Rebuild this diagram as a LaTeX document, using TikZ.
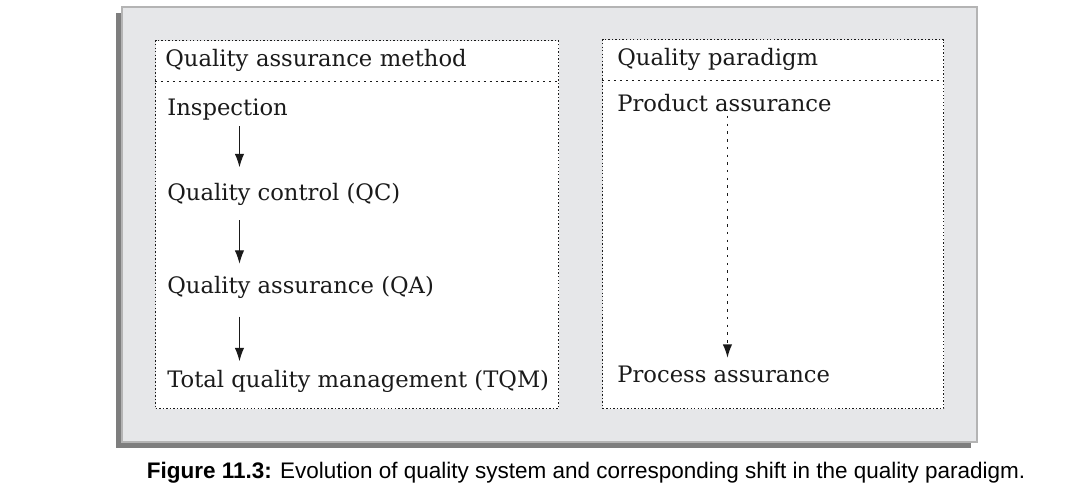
\documentclass[tikz,border=0pt]{standalone}
\usepackage{fontspec}
\setmainfont{DejaVu Serif}
\newfontfamily\capfont{Liberation Sans}
\usepackage{tikz}
\usetikzlibrary{positioning,arrows.meta}

\definecolor{panelgray}{HTML}{E6E7E9}
\definecolor{edgegray}{HTML}{B4B4B4}
\definecolor{shadowgray}{HTML}{7E7E7E}
\definecolor{inkgray}{HTML}{1A1A1A}

\begin{document}
\begin{tikzpicture}[x=0.02cm, y=-0.02cm,
    paneframe/.style={rectangle, draw=inkgray, fill=white, line width=0.75pt,
        dash pattern=on 0.8pt off 1.2pt, inner sep=0pt, anchor=north west},
    headcell/.style={rectangle, anchor=north west, inner xsep=0.2cm, inner ysep=0pt,
        align=left, minimum height=0.82cm, font=\fontsize{12.9}{15}\selectfont, text=inkgray},
    headline/.style={draw=inkgray, line width=0.75pt, dash pattern=on 1.2pt off 2.2pt},
    item/.style={rectangle, inner sep=2pt, font=\fontsize{12.9}{15}\selectfont, text=inkgray},
    flow/.style={-{Latex[length=2.7mm,width=1.9mm]}, draw=inkgray, line width=0.65pt},
    shiftflow/.style={flow, line width=0.85pt, dash pattern=on 1.4pt off 3pt},
    caption/.style={font=\capfont\fontsize{12.8}{15}\selectfont, text=black}]
\useasboundingbox (0,0) rectangle (1069,501);

%% Background panel
\fill[shadowgray] (116,13) rectangle (971,448);
\filldraw[fill=panelgray, draw=edgegray, line width=0.8pt] (122,7) rectangle (977,442);

%% Nodes definition
\node[paneframe, minimum width=8.06cm, minimum height=7.36cm] (methodbox) at (155,40) {};
\node[paneframe, minimum width=6.82cm, minimum height=7.38cm] (paradigmbox) at (602,39) {};

\node[headcell, text width=7.66cm] (methodhead) at (methodbox.north west) {Quality assurance method};
\node[headcell, text width=6.22cm, inner xsep=0.3cm] (paradigmhead) at (paradigmbox.north west) {Quality paradigm};

\node[item, below right=0.68cm and 0.17cm of methodhead.south west, anchor=base west] (insp) {Inspection};
\node[item, below=1.7cm of insp.base west, anchor=base west] (qc) {Quality control (QC)};
\node[item, below=1.86cm of qc.base west, anchor=base west] (qa) {Quality assurance (QA)};
\node[item, below=1.88cm of qa.base west, anchor=base west] (tqm) {Total quality management (TQM)};

\node[item, below right=0.62cm and 0.23cm of paradigmhead.south west, anchor=base west] (product) {Product assurance};
\node[item, below=5.42cm of product.base west, anchor=base west] (process) {Process assurance};

\coordinate[right=1.52cm of insp.base west] (spine);
\coordinate[right=2.28cm of product.base west] (shiftline);

\node[caption] (caption) at (586,473) {\textbf{Figure 11.3:} Evolution of quality system and corresponding shift in the quality paradigm.};

%% Edges definition
\draw[headline] (methodhead.south west) -- (methodhead.south east);
\draw[headline] (paradigmhead.south west) -- (paradigmhead.south east);

\draw[flow, shorten <=1pt, shorten >=7pt] (insp.south -| spine) -- (qc.north -| spine);
\draw[flow, shorten <=6pt, shorten >=5pt] (qc.south -| spine) -- (qa.north -| spine);
\draw[flow, shorten <=8pt, shorten >=3pt] (qa.south -| spine) -- (tqm.north -| spine);
\draw[shiftflow, shorten >=2.5pt] (product.south -| shiftline) -- (process.north -| shiftline);
\end{tikzpicture}
\end{document}
